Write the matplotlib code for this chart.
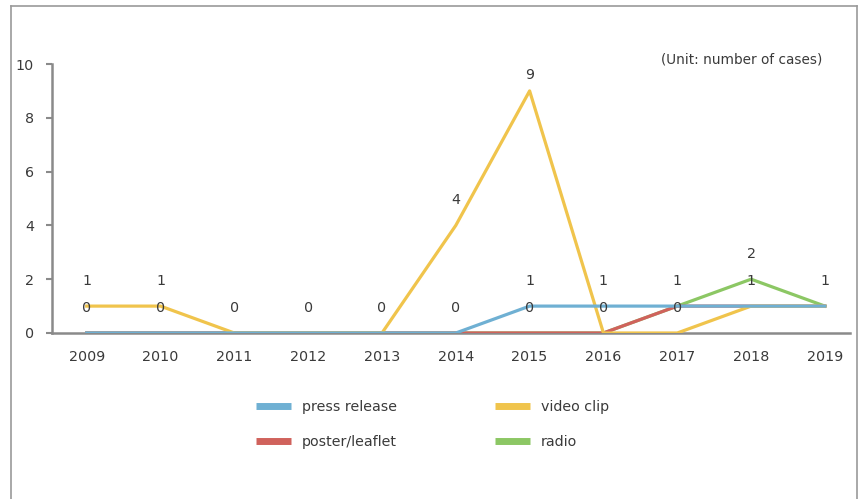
import matplotlib.pyplot as plt
from matplotlib.lines import Line2D

years = [2009, 2010, 2011, 2012, 2013, 2014, 2015, 2016, 2017, 2018, 2019]
press_release = [0, 0, 0, 0, 0, 0, 1, 1, 1, 1, 1]
poster_leaflet = [0, 0, 0, 0, 0, 0, 0, 0, 1, 1, 1]
video_clip = [1, 1, 0, 0, 0, 4, 9, 0, 0, 1, 1]
radio = [0, 0, 0, 0, 0, 0, 0, 0, 1, 2, 1]

# data labels as printed on the chart: year, text, height in data units
label_years = [2009, 2009, 2010, 2010, 2011, 2012, 2013, 2014, 2014,
               2015, 2015, 2015, 2016, 2016, 2017, 2017, 2018, 2018, 2019]
label_texts = ['1', '0', '1', '0', '0', '0', '0', '0', '4',
               '9', '1', '0', '1', '0', '1', '0', '2', '1', '1']
label_y = [1.93, 0.93, 1.93, 0.93, 0.93, 0.93, 0.93, 0.93, 4.94,
           9.6, 1.93, 0.93, 1.93, 0.93, 1.93, 0.93, 2.93, 1.93, 1.93]

c_blue = '#6fb0d3'
c_red = '#d0625c'
c_yellow = '#f0c44c'
c_green = '#8cc764'
txt = '#3a3a3a'
axis_c = '#8a8a8a'
fs = 10.3

plt.rcParams['font.family'] = ['DejaVu Sans']

fig = plt.figure(figsize=(8.62, 4.99), dpi=100)
ax = fig.add_axes([52 / 862, 1 - 333 / 499, (850 - 52) / 862, (333 - 64) / 499])

lw = 2.3
ax.plot(years, radio, color=c_green, lw=lw, label='radio', zorder=2)
ax.plot(years, poster_leaflet, color=c_red, lw=lw, label='poster/leaflet', zorder=3)
ax.plot(years, video_clip, color=c_yellow, lw=lw, label='video clip', zorder=4)
ax.plot(years, press_release, color=c_blue, lw=lw, label='press release', zorder=5)

for x, t, y in zip(label_years, label_texts, label_y):
    ax.text(x, y, t, ha='center', va='center', fontsize=fs, color=txt, zorder=6)

ax.set_xlim(2008.53, 2019.34)
ax.set_ylim(0, 10)
ax.set_xticks(years)
ax.set_yticks([0, 2, 4, 6, 8, 10])
ax.tick_params(axis='x', length=0, pad=12, labelsize=fs, labelcolor=txt)
ax.tick_params(axis='y', length=4, width=1.5, color=axis_c, pad=9, labelsize=fs, labelcolor=txt)
for s in ['top', 'right']:
    ax.spines[s].set_visible(False)
for s in ['left', 'bottom']:
    ax.spines[s].set_color(axis_c)
    ax.spines[s].set_linewidth(1.8)
ax.spines['bottom'].set_zorder(1)

ax.text(0.966, 1.015, '(Unit: number of cases)', transform=ax.transAxes,
        ha='right', va='center', fontsize=9.8, color=txt)

h, l = ax.get_legend_handles_labels()
order = [3, 1, 2, 0]
fig.legend([Line2D([], [], color=h[i].get_color(), lw=5, solid_capstyle='butt') for i in order],
           [l[i] for i in order], ncol=2, frameon=False,
           loc='upper left', bbox_to_anchor=(243 / 862, 1 - 387 / 499),
           fontsize=fs, labelcolor=txt, handlelength=2.45, handletextpad=0.75,
           columnspacing=6.9, labelspacing=1.5)

# thin frame around the figure
fk = dict(color='#9a9a9a', lw=1.2, transform=fig.transFigure)
fig.add_artist(Line2D([11 / 862, 11 / 862], [0, 1 - 6 / 499], **fk))
fig.add_artist(Line2D([11 / 862, 857 / 862], [1 - 6 / 499, 1 - 6 / 499], **fk))
fig.add_artist(Line2D([857 / 862, 857 / 862], [0, 1 - 6 / 499], **fk))

fig.savefig('out.png', dpi=100)
